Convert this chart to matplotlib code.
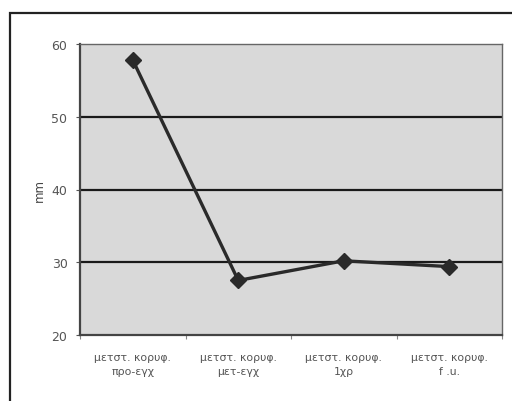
import matplotlib.pyplot as plt
from matplotlib.patches import Rectangle

categories = ['μετστ. κορυφ.\nπρο-εγχ', 'μετστ. κορυφ.\nμετ-εγχ',
              'μετστ. κορυφ.\n1χρ', 'μετστ. κορυφ.\nf .u.']
values = [57.8, 27.5, 30.2, 29.4]
yticks = [20, 30, 40, 50, 60]

fig = plt.figure(figsize=(5.12, 4.02), dpi=100)
fig.patch.set_facecolor('white')

# outer chart frame
fig.patches.append(Rectangle((10 / 512, -0.05), 1.1, (402 - 14) / 402 + 0.05,
                             transform=fig.transFigure, fill=False,
                             edgecolor='#222222', linewidth=1.6))

ax = fig.add_axes([80 / 512, 1 - 336 / 402, (502 - 80) / 512, (336 - 45) / 402])
ax.set_facecolor('#d9d9d9')

x = list(range(len(categories)))
ax.plot(x, values, color='#2a2a2a', linewidth=2.4, marker='D',
        markersize=8, markerfacecolor='#2a2a2a', markeredgecolor='#2a2a2a',
        zorder=3)

ax.set_xlim(-0.5, len(categories) - 0.5)
ax.set_ylim(20, 60)
ax.set_yticks(yticks)
ax.set_xticks([i - 0.5 for i in range(len(categories) + 1)], minor=False)
ax.set_xticklabels([])
ax.set_xticks(x, minor=True)
ax.set_xticklabels(categories, minor=True, fontsize=7.8, color='#555555',
                   linespacing=1.5)
ax.tick_params(axis='x', which='minor', length=0, pad=12)
ax.tick_params(axis='x', which='major', length=3, color='#888888')
ax.tick_params(axis='y', length=3, labelsize=9, labelcolor='#555555',
               color='#555555', pad=6)

for y in [30, 40, 50]:
    ax.axhline(y, color='#1a1a1a', linewidth=1.6, zorder=2)

for side in ['left', 'bottom']:
    ax.spines[side].set_color('#444444')
    ax.spines[side].set_linewidth(1.6)
for side in ['top', 'right']:
    ax.spines[side].set_color('#666666')
    ax.spines[side].set_linewidth(1.0)

ax.set_ylabel('mm', fontsize=8.5, color='#444444', labelpad=4)

fig.savefig('out.png', dpi=100)
